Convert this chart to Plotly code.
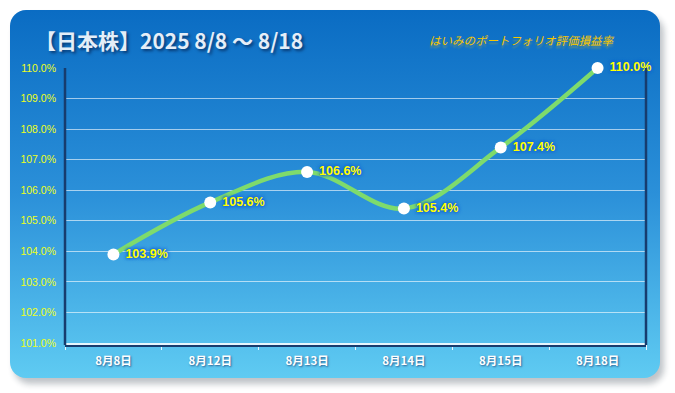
import base64
import plotly.graph_objects as go

# ---- data ----
categories = ["8月8日", "8月12日", "8月13日", "8月14日", "8月15日", "8月18日"]
values = [103.9, 105.6, 106.6, 105.4, 107.4, 110.0]
y_ticks = [101, 102, 103, 104, 105, 106, 107, 108, 109, 110]
y_tick_labels = [f"{v:.1f}%" for v in y_ticks]
title_text = "【日本株】2025 8/8 ～ 8/18"
subtitle_text = "はいみのポートフォリオ評価損益率"

# ---- geometry ----
W, H = 675, 393
ML, MR, MT, MB = 65, 29, 68, 50
PW, PH = W - ML - MR, H - MT - MB

svg = f'''<svg xmlns="http://www.w3.org/2000/svg" width="{W}" height="{H}" viewBox="0 0 {W} {H}">
<defs>
<linearGradient id="g" x1="0" y1="0" x2="0" y2="1">
<stop offset="0" stop-color="#0A6CC3"/>
<stop offset="0.5" stop-color="#2B90D9"/>
<stop offset="1" stop-color="#5FCBF2"/>
</linearGradient>
<filter id="s" x="-5%" y="-5%" width="110%" height="115%"><feGaussianBlur stdDeviation="3"/></filter>
</defs>
<rect x="14" y="16" width="650" height="368" rx="16" fill="#1a2a3a" opacity="0.28" filter="url(#s)"/>
<rect x="10" y="10" width="650" height="368" rx="16" fill="url(#g)"/>
</svg>'''
svg_uri = "data:image/svg+xml;base64," + base64.b64encode(svg.encode()).decode()

fig = go.Figure()
fig.add_trace(go.Scatter(
    x=categories, y=values,
    mode="lines+markers+text",
    line=dict(color="#7EDB6C", width=4.5, shape="spline", smoothing=1.0),
    marker=dict(color="white", size=12, line=dict(width=0)),
    text=["\u00a0" + f"{v:.1f}%" for v in values],
    textposition="middle right",
    textfont=dict(family="Liberation Sans, Arial", size=12.5, color="#FFFF00", weight="bold",
                  shadow="0 0 3px #1560D5, 0 0 3px #1560D5, 0 0 4px #1560D5"),
    cliponaxis=False,
    hoverinfo="skip",
))

fig.update_layout(
    width=W, height=H,
    margin=dict(l=ML, r=MR, t=MT, b=MB),
    paper_bgcolor="white",
    plot_bgcolor="rgba(0,0,0,0)",
    showlegend=False,
    images=[dict(source=svg_uri, xref="paper", yref="paper",
                 x=-ML / PW, y=1 + MT / PH, sizex=W / PW, sizey=H / PH,
                 xanchor="left", yanchor="top", sizing="stretch", layer="below")],
    xaxis=dict(
        type="category", tickson="boundaries",
        showgrid=False, showline=True, linecolor="rgba(255,255,255,0.85)", linewidth=1.5,
        ticks="outside", ticklen=5, tickcolor="rgba(255,255,255,0.85)", tickwidth=1,
        ticklabelstandoff=6,
        tickfont=dict(family="Noto Sans CJK JP", size=11.5, color="white", weight="bold",
                      shadow="1px 1px 2px rgba(0,0,60,0.5)"),
        range=[-0.5, 5.5], fixedrange=True,
    ),
    yaxis=dict(
        range=[101, 110], tickmode="array", tickvals=y_ticks, ticktext=y_tick_labels,
        showgrid=True, gridcolor="rgba(255,255,255,0.6)", gridwidth=1,
        zeroline=False, showline=False,
        ticks="", ticklabelstandoff=8,
        tickfont=dict(family="Liberation Sans, Arial", size=10.5, color="#EEFF1A"),
        fixedrange=True,
    ),
    shapes=[
        dict(type="line", xref="paper", yref="paper", x0=0, x1=0, y0=-2 / PH, y1=1,
             line=dict(color="#173C6E", width=2.5)),
        dict(type="line", xref="paper", yref="paper", x0=1, x1=1, y0=-2 / PH, y1=1,
             line=dict(color="#173C6E", width=2.5)),
        dict(type="line", xref="paper", yref="paper", x0=0, x1=1, y0=-3 / PH, y1=-3 / PH,
             line=dict(color="#173C6E", width=2)),
    ],
    annotations=[
        dict(text=title_text, xref="paper", yref="paper", x=-32 / PW, y=1 + 28 / PH,
             xanchor="left", yanchor="middle", showarrow=False,
             font=dict(family="Noto Sans CJK JP", size=21, color="#E4EEF8", weight="bold",
                       shadow="2px 2px 3px rgba(0,20,60,0.6)")),
        dict(text=subtitle_text, xref="paper", yref="paper", x=(521 - ML) / PW, y=1 + 28 / PH,
             xanchor="center", yanchor="middle", showarrow=False,
             font=dict(family="Noto Sans CJK JP", size=11.5, color="#F7C600", style="italic",
                       shadow="0px 3px 2px rgba(255,200,0,0.35)")),
    ],
)

fig.write_html("out.html", config={"displayModeBar": False},
               post_script="document.body.style.margin='0';")
